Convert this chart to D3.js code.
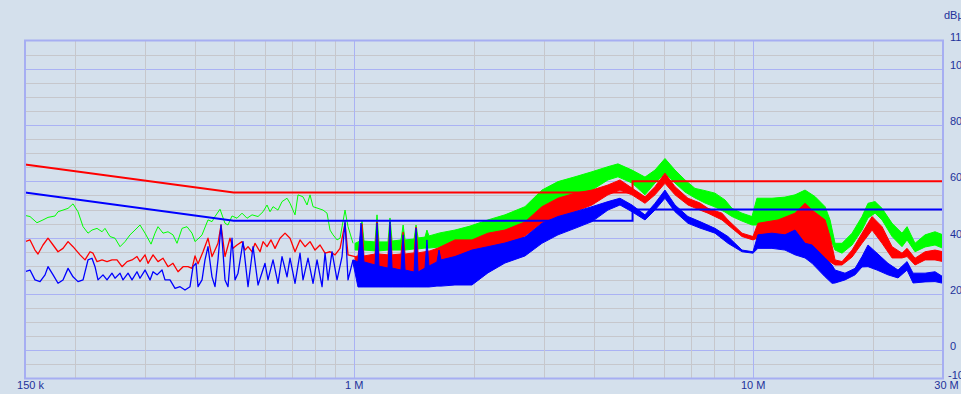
<!DOCTYPE html>
<html>
<head>
<meta charset="utf-8">
<script src="https://cdn.jsdelivr.net/npm/d3@7"></script>
<style>
html, body { margin: 0; padding: 0; background: #d4e0ec; overflow: hidden; }
</style>
</head>
<body>
<script>
// frequency in MHz, level in dBuV
var freqTicks = [0.15, 1, 10, 30];
var freqLabels = ["150 k", "1 M", "10 M", "30 M"];
var levelTicks = [-10, 0, 20, 40, 60, 80, 100, 110];

var limitFreq = [0.15, 0.5, 5, 5, 30];
var qpLimit = [66, 56, 56, 60, 60];
var avLimit = [56, 46, 46, 50, 50];

// [freq, level] for the low band where the traces are single lines
var greenLine = [[0.150,47.9],[0.1544,47.5],[0.1607,45.3],[0.1664,46.3],[0.1713,47.2],[0.1784,47.7],[0.1815,49.2],[0.1868,49.8],
    [0.1923,50.4],[0.1979,52.0],[0.2037,49.2],[0.2097,43.9],[0.2158,41.6],[0.2208,42.7],[0.2273,43.3],[0.2340,42.1],[0.2380,43.3],
    [0.2450,40.4],[0.2522,39.8],[0.2596,36.8],[0.2672,38.6],[0.2750,41.0],[0.2830,42.7],[0.2913,44.5],[0.2999,41.6],[0.3105,37.7],
    [0.3177,41.6],[0.3232,43.9],[0.3327,41.6],[0.3424,42.1],[0.3524,41.0],[0.3607,38.0],[0.3713,43.3],[0.3821,43.9],[0.3933,41.6],
    [0.4002,38.6],[0.4119,40.2],[0.4167,41.0],[0.4313,46.3],[0.4414,45.7],[0.4491,47.5],[0.4623,50.1],[0.4758,45.1],[0.4841,44.5],
    [0.4954,47.7],[0.5099,46.9],[0.5249,48.7],[0.5403,46.9],[0.5562,48.1],[0.5757,47.5],[0.5926,49.2],[0.6064,51.6],[0.6170,49.2],
    [0.6278,51.0],[0.6460,49.8],[0.6612,52.8],[0.6806,54.0],[0.6925,52.2],[0.7127,48.1],[0.7251,55.2],[0.7464,54.5],[0.7639,51.6],
    [0.7772,55.2],[0.7908,51.0],[0.8140,50.4],[0.8378,49.8],[0.8573,48.7],[0.8723,42.7],[0.8876,41.0],[0.9083,39.2],[0.9242,39.8],
    [0.9512,49.8],[0.9678,43.9],[0.9962,38.0]];

var redLine = [[0.150,38.6],[0.1544,39.2],[0.1589,35.6],[0.1617,34.2],[0.1664,37.4],[0.1713,39.8],[0.1764,37.4],[0.1815,35.0],
    [0.1868,36.2],[0.1923,38.6],[0.1979,36.8],[0.2061,33.9],[0.2121,32.1],[0.2183,35.0],[0.2221,34.5],[0.2273,31.5],[0.2340,32.1],
    [0.2408,31.5],[0.2478,32.1],[0.2551,32.1],[0.2626,29.7],[0.2703,31.5],[0.2782,32.1],[0.2863,33.3],[0.2913,31.5],[0.2999,33.9],
    [0.3051,30.9],[0.3141,33.9],[0.3232,31.5],[0.3327,32.7],[0.3424,29.7],[0.3524,30.9],[0.3628,27.9],[0.3735,29.7],[0.3843,29.7],
    [0.3933,29.1],[0.4002,33.5],[0.4072,30.7],[0.4191,35.0],[0.4313,39.8],[0.4414,33.3],[0.4491,35.6],[0.4569,38.0],[0.4650,44.5],
    [0.4758,33.3],[0.4897,39.8],[0.4983,36.2],[0.5099,37.4],[0.5249,38.6],[0.5341,35.6],[0.5434,36.8],[0.5562,35.0],[0.5658,38.0],
    [0.5824,35.0],[0.5926,38.6],[0.6064,36.8],[0.6205,39.2],[0.6350,36.2],[0.6536,39.8],[0.6728,41.6],[0.6925,39.8],[0.7127,35.0],
    [0.7336,39.2],[0.7551,36.8],[0.7772,38.6],[0.8000,35.6],[0.8234,37.4],[0.8475,34.5],[0.8723,35.0],[0.8979,33.9],[0.9242,36.2],
    [0.9512,45.1],[0.9678,33.9],[1.008,33.3]];

var blueLine = [[0.150,27.9],[0.1544,28.5],[0.1589,25.0],[0.1636,24.4],[0.1684,26.8],[0.1713,29.7],[0.1764,26.8],[0.1815,23.8],
    [0.1868,25.0],[0.1923,29.1],[0.1979,26.1],[0.2037,24.4],[0.2097,25.0],[0.2158,32.1],[0.2208,32.7],[0.2247,29.7],[0.2286,25.0],
    [0.2353,26.8],[0.2408,25.0],[0.2478,27.4],[0.2522,25.6],[0.2596,27.4],[0.2641,25.0],[0.2719,27.4],[0.2782,25.0],[0.2863,27.9],
    [0.2913,25.6],[0.2999,28.5],[0.3087,25.0],[0.3141,27.9],[0.3214,26.8],[0.3308,28.5],[0.3365,25.0],[0.3464,25.0],[0.3566,22.0],
    [0.3671,22.6],[0.3777,21.4],[0.3888,22.6],[0.3956,29.7],[0.4025,30.9],[0.4072,22.6],[0.4167,25.0],[0.4239,32.1],[0.4313,36.8],
    [0.4414,26.1],[0.4491,22.6],[0.4569,32.1],[0.4650,44.5],[0.4758,25.0],[0.4841,22.6],[0.4954,39.8],[0.5041,25.0],[0.5129,27.4],
    [0.5280,38.6],[0.5434,22.6],[0.5594,36.8],[0.5757,23.2],[0.5994,30.9],[0.6098,25.0],[0.6278,32.1],[0.6460,23.8],[0.6612,33.3],
    [0.6806,26.1],[0.6925,32.7],[0.7127,23.8],[0.7336,34.5],[0.7464,25.0],[0.7683,32.7],[0.7908,23.8],[0.8093,32.1],[0.8330,22.6],
    [0.8475,34.5],[0.8623,25.0],[0.8824,35.0],[0.9083,25.0],[0.9349,33.3],[0.9512,45.7],[0.9678,25.0],[0.9962,32.1]];

// [freq, upper level, lower level] where the traces turn into dense bands
var greenBand = [[1.008,38.0,35.6],[1.037,38.8,35.6],[1.049,45.9,35.6],[1.061,38.8,35.6],[1.131,38.5,35.3],[1.144,48.1,35.3],
    [1.157,38.5,35.3],[1.219,38.5,35.6],[1.233,47.0,35.6],[1.248,38.8,35.6],[1.314,39.2,35.6],[1.330,44.5,35.6],[1.345,39.2,35.6],
    [1.417,39.5,36.0],[1.433,44.5,36.0],[1.450,39.9,36.0],[1.509,40.2,36.3],[1.526,42.7,36.3],[1.544,40.6,36.3],[1.645,41.7,36.7],
    [1.794,42.7,37.1],[1.956,44.1,37.8],[2.170,46.3,38.8],[2.394,48.1,40.6],[2.687,51.0,43.9],[2.964,56.9,51.0],[3.251,59.9,53.4],
    [3.586,61.6,55.2],[3.956,63.4,56.9],[4.338,65.2,60.5],[4.596,66.2,61.6],[4.983,64.0,59.4],[5.372,61.5,55.2],[5.691,64.0,59.4],
    [6.029,68.1,62.9],[6.388,64.0,59.4],[6.767,60.5,56.2],[7.169,57.5,54.1],[7.595,56.7,52.3],[8.047,55.8,50.9],[8.525,53.4,49.1],
    [8.876,50.4,47.5],[9.404,48.7,45.9],[9.962,47.5,44.5],[10.25,54.0,44.5],[11.18,54.0,44.9],[12.05,54.4,46.3],[12.77,55.2,48.4],
    [13.53,56.9,50.9],[14.33,54.6,49.1],[15.19,51.0,44.5],[15.63,46.3,39.9],[16.09,38.0,35.6],[16.75,38.0,34.5],[17.75,41.6,37.4],
    [18.80,47.5,42.7],[19.46,52.2,47.0],[20.27,52.8,48.7],[21.10,50.4,46.3],[22.36,45.1,40.4],[23.68,41.6,36.8],[24.38,43.9,39.2],
    [25.53,38.0,35.0],[27.05,41.0,36.7],[28.65,42.1,37.4],[30.0,41.0,36.2]];

var redBand = [[1.008,33.3,29.2],[1.025,33.5,29.2],[1.049,44.9,29.2],[1.061,33.5,29.2],[1.131,34.2,28.5],[1.144,45.6,28.5],
    [1.157,34.2,28.5],[1.219,33.9,28.5],[1.233,44.5,28.5],[1.248,33.9,28.5],[1.314,34.2,28.2],[1.330,42.0,28.2],[1.345,34.2,28.2],
    [1.417,34.6,27.9],[1.433,43.8,27.9],[1.450,34.6,27.9],[1.553,35.3,28.2],[1.626,36.3,29.2],[1.794,39.2,31.0],[1.979,39.2,32.1],
    [2.170,41.6,33.3],[2.394,42.7,35.6],[2.687,45.6,40.6],[2.964,51.0,45.1],[3.251,54.0,47.5],[3.586,55.8,49.2],[3.956,56.9,51.6],
    [4.338,58.7,55.2],[4.650,60.5,56.9],[4.983,57.6,55.2],[5.372,54.5,52.2],[5.691,58.1,55.2],[6.029,62.9,59.3],[6.388,58.1,55.2],
    [6.885,54.0,51.6],[7.379,52.3,49.8],[7.728,50.4,48.7],[8.378,48.7,46.3],[8.673,46.3,44.5],[9.404,41.6,40.4],[10.02,40.4,39.2],
    [10.31,45.1,39.9],[11.58,46.3,40.4],[12.77,48.7,38.0],[13.53,52.2,37.1],[14.09,49.8,35.6],[15.19,46.3,32.1],[15.63,40.4,31.4],
    [16.09,32.1,30.3],[16.75,31.5,30.3],[17.75,35.6,33.1],[18.80,41.6,38.0],[19.92,47.5,42.7],[21.10,43.9,38.0],[22.36,36.8,32.8],
    [23.68,34.5,32.8],[24.38,36.2,33.3],[25.53,32.7,30.3],[27.05,35.0,32.1],[28.65,35.6,32.1],[30.0,35.0,31.5]];

var blueBand = [[0.9962,32.1,31.0],[1.025,31.4,22.5],[1.043,45.2,22.5],[1.061,31.4,22.5],[1.131,30.3,22.5],[1.144,45.2,22.5],
    [1.157,29.9,22.5],[1.219,29.2,22.5],[1.233,45.6,22.5],[1.248,29.2,22.5],[1.314,28.5,22.5],[1.330,41.0,22.5],[1.345,28.5,22.5],
    [1.417,27.8,22.5],[1.433,43.4,22.5],[1.450,27.8,22.5],[1.509,29.2,22.5],[1.526,39.2,22.5],[1.544,29.9,22.5],[1.617,31.4,22.8],
    [1.636,35.6,22.8],[1.655,32.1,22.8],[1.794,33.3,23.2],[1.979,35.6,23.2],[2.170,36.8,27.5],[2.394,38.1,31.0],[2.687,40.2,33.5],
    [2.964,45.1,38.0],[3.251,47.5,41.0],[3.586,49.2,43.3],[3.956,51.0,45.7],[4.338,52.8,49.8],[4.650,54.0,51.6],[4.983,51.6,49.2],
    [5.372,48.1,46.3],[5.691,52.2,49.8],[6.029,56.9,54.0],[6.388,51.6,49.2],[6.885,47.5,45.1],[7.379,45.7,43.4],[8.047,43.3,41.6],
    [8.673,40.4,38.0],[9.404,35.6,35.0],[10.02,35.0,34.5],[10.31,41.0,36.2],[11.18,41.6,36.2],[12.05,41.0,35.6],[12.77,42.7,33.9],
    [13.53,38.0,32.8],[14.09,37.4,30.9],[15.19,32.8,26.1],[15.81,30.3,23.8],[16.09,28.5,23.9],[17.04,27.4,25.0],[18.06,29.1,26.8],
    [18.80,33.3,29.6],[19.46,37.4,29.7],[20.50,34.5,28.5],[21.84,30.9,26.8],[23.14,28.5,25.7],[24.38,31.5,28.5],[25.24,27.4,23.9],
    [27.05,27.4,24.3],[28.65,27.9,24.4],[30.0,26.1,23.8]];

var svgWidth = 961;
var svgHeight = 394;
var plotLeft = 25, plotRight = 943, plotTop = 40.5, plotBottom = 378.5;
var textColor = "#22319a";
var fontFamily = "'Liberation Sans', Arial, sans-serif";

var x = d3.scaleLog().domain([0.15, 30]).range([plotLeft, plotRight]);
var y = d3.scaleLinear().domain([-10, 110]).range([plotBottom, plotTop]);

var snap = function (v) {
    return Math.round(v) + 0.5;
};

var svg = d3.select("body")
    .append("svg")
    .attr("width", svgWidth)
    .attr("height", svgHeight)
    .style("display", "block");

svg.append("rect")
    .attr("width", svgWidth)
    .attr("height", svgHeight)
    .attr("fill", "#d4e0ec");

// grid
svg.append("g").selectAll("line")
    .data(d3.range(-5, 110, 5))
    .enter()
    .append("line")
    .attr("x1", plotLeft)
    .attr("x2", plotRight)
    .attr("y1", function (d) { return snap(y(d)); })
    .attr("y2", function (d) { return snap(y(d)); })
    .attr("stroke", function (d) { return d % 20 === 0 ? "#aab2f4" : "#c6c7cc"; })
    .attr("stroke-width", 1);

svg.append("g").selectAll("line")
    .data(x.ticks().filter(function (d) { return d > 0.15 && d < 30; }))
    .enter()
    .append("line")
    .attr("y1", plotTop)
    .attr("y2", plotBottom)
    .attr("x1", function (d) { return snap(x(d)); })
    .attr("x2", function (d) { return snap(x(d)); })
    .attr("stroke", function (d) { return (d === 1 || d === 10) ? "#aab2f4" : "#c6c7cc"; })
    .attr("stroke-width", 1);

svg.append("clipPath")
    .attr("id", "plotClip")
    .append("rect")
    .attr("x", plotLeft)
    .attr("y", plotTop)
    .attr("width", plotRight - plotLeft)
    .attr("height", plotBottom - plotTop);

var traces = svg.append("g").attr("clip-path", "url(#plotClip)");

var line = d3.line()
    .x(function (d) { return x(d[0]); })
    .y(function (d) { return y(d[1]); });

var band = d3.area()
    .x(function (d) { return x(d[0]); })
    .y1(function (d) { return y(d[1]); })
    .y0(function (d) { return y(d[2]); });

var series = [
    { line: greenLine, band: greenBand, color: "#00ff00", width: 1 },
    { line: redLine, band: redBand, color: "#ff0000", width: 1.3 },
    { line: blueLine, band: blueBand, color: "#0000ff", width: 1.3 }
];

series.forEach(function (s) {
    traces.append("path")
        .attr("d", line(s.line))
        .attr("fill", "none")
        .attr("stroke", s.color)
        .attr("stroke-width", s.width)
        .attr("stroke-linejoin", "round");
    traces.append("path")
        .attr("d", band(s.band))
        .attr("fill", s.color)
        .attr("stroke", s.color)
        .attr("stroke-width", 1)
        .attr("stroke-linejoin", "round");
});

// limit lines
var limitLine = d3.line()
    .x(function (d) { return x(d[0]); })
    .y(function (d) { return y(d[1]); });

[[qpLimit, "#ff0000"], [avLimit, "#0000ff"]].forEach(function (l) {
    traces.append("path")
        .attr("d", limitLine(limitFreq.map(function (f, i) { return [f, l[0][i]]; })))
        .attr("fill", "none")
        .attr("stroke", l[1])
        .attr("stroke-width", 2);
});

// frame
svg.append("rect")
    .attr("x", plotLeft)
    .attr("y", plotTop)
    .attr("width", plotRight - plotLeft)
    .attr("height", plotBottom - plotTop)
    .attr("fill", "none")
    .attr("stroke", "#a6aef2")
    .attr("stroke-width", 2);

// axes
var xAxis = svg.append("g")
    .attr("transform", "translate(0," + plotBottom + ")")
    .call(d3.axisBottom(x)
        .tickValues(freqTicks)
        .tickFormat(function (d, i) { return freqLabels[i]; })
        .tickSize(0)
        .tickPadding(3));
xAxis.select(".domain").remove();
xAxis.selectAll("text")
    .attr("font-family", fontFamily)
    .attr("font-size", "11px")
    .attr("fill", textColor)
    .attr("dx", function (d) { return d === 30 ? "3px" : (d === 0.15 ? "5px" : "0px"); });

var yAxis = svg.append("g")
    .attr("transform", "translate(950,-4)")
    .call(d3.axisRight(y)
        .tickValues(levelTicks)
        .tickFormat(function (d) { return String(d); })
        .tickSize(0)
        .tickPadding(0));
yAxis.select(".domain").remove();
yAxis.selectAll("text")
    .attr("font-family", fontFamily)
    .attr("font-size", "11px")
    .attr("fill", textColor)
    .attr("dx", function (d) { return d < 0 ? "-2px" : "0px"; });

svg.append("text")
    .text("dBµV")
    .attr("x", 944)
    .attr("y", 19)
    .attr("font-family", fontFamily)
    .attr("font-size", "11px")
    .attr("fill", textColor);
</script>
</body>
</html>
